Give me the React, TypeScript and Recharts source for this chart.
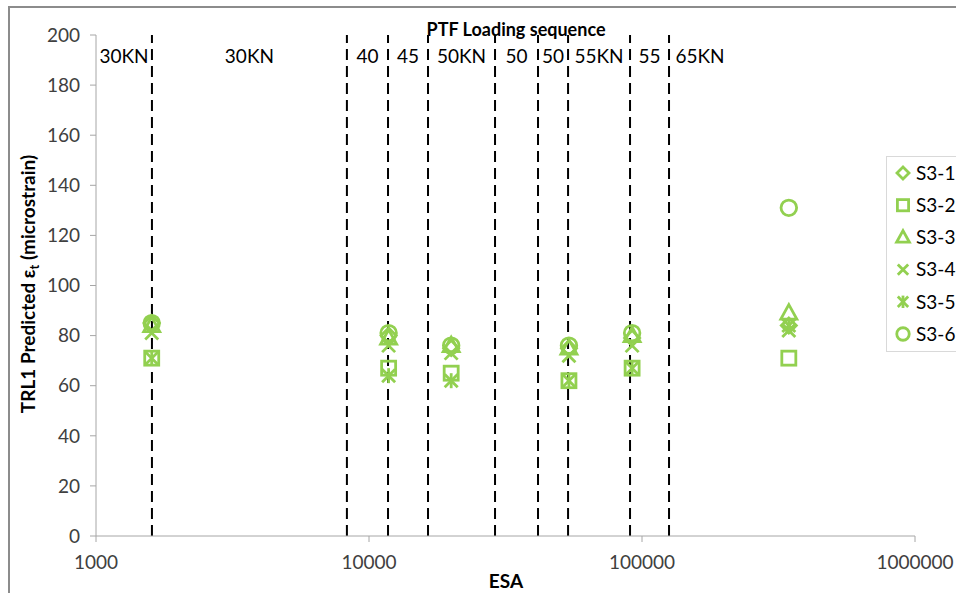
import React from "react";
import {
  ScatterChart,
  Scatter,
  XAxis,
  YAxis,
  ReferenceLine,
  ReferenceArea,
} from "recharts";

// ESA position of each measurement cluster
const esa = [1600, 11800, 20000, 54000, 92000, 345000];

// Predicted tensile strain (microstrain) per specimen
const s31 = [85, 80, 75, 75, 79, 84];
const s32 = [71, 67, 65, 62, 67, 71];
const s33 = [84, 79, 76, 75, 80, 89];
const s34 = [81, 76, 73, 72, 76, 82];
const s35 = [71, 64, 62, 62, 67, 84];
const s36 = [85, 81, 76, 76, 81, 131];

// Loading-sequence boundaries (ESA) and the load stage between them
const stageBounds = [1000, 1603, 8300, 11740, 16450, 28950, 41600, 53600, 90400, 125600, 212000];
const stageLabels = ["30KN", "30KN", "40", "45", "50KN", "50", "50", "55KN", "55", "65KN"];

const xTicks = [1000, 10000, 100000, 1000000];
const yTicks = [0, 20, 40, 60, 80, 100, 120, 140, 160, 180, 200];

type Kind = "diamond" | "square" | "triangle" | "x" | "star" | "circle";

const series: { name: string; kind: Kind; values: number[] }[] = [
  { name: "S3-1", kind: "diamond", values: s31 },
  { name: "S3-2", kind: "square", values: s32 },
  { name: "S3-3", kind: "triangle", values: s33 },
  { name: "S3-4", kind: "x", values: s34 },
  { name: "S3-5", kind: "star", values: s35 },
  { name: "S3-6", kind: "circle", values: s36 },
];

const GREEN = "#92D050";
const FONT = "Lato, 'Open Sans', sans-serif";

function MarkerGlyph({ kind, cx, cy, s = 1 }: { kind: Kind; cx: number; cy: number; s?: number }) {
  const common = { fill: "none", stroke: GREEN, strokeWidth: 2.8 };
  switch (kind) {
    case "diamond": {
      const h = 7.5 * s;
      return <polygon {...common} points={`${cx},${cy - h} ${cx + h},${cy} ${cx},${cy + h} ${cx - h},${cy}`} />;
    }
    case "square": {
      const h = 7 * s;
      return <rect {...common} x={cx - h} y={cy - h} width={2 * h} height={2 * h} />;
    }
    case "triangle": {
      const h = 8 * s;
      return <polygon {...common} points={`${cx},${cy - h * 1.05} ${cx + h},${cy + h * 0.75} ${cx - h},${cy + h * 0.75}`} />;
    }
    case "x": {
      const h = 6.5 * s;
      return (
        <g {...common}>
          <line x1={cx - h} y1={cy - h} x2={cx + h} y2={cy + h} />
          <line x1={cx - h} y1={cy + h} x2={cx + h} y2={cy - h} />
        </g>
      );
    }
    case "star": {
      const h = 6.5 * s;
      return (
        <g {...common}>
          <line x1={cx - h} y1={cy - h} x2={cx + h} y2={cy + h} />
          <line x1={cx - h} y1={cy + h} x2={cx + h} y2={cy - h} />
          <line x1={cx} y1={cy - h - 1} x2={cx} y2={cy + h + 1} />
        </g>
      );
    }
    default:
      return <circle {...common} cx={cx} cy={cy} r={7.8 * s} />;
  }
}

const stages = stageLabels.map((label, i) => ({
  label,
  x1: stageBounds[i],
  x2: stageBounds[i + 1],
}));

const boundaries = stageBounds.slice(1, stageBounds.length - 1);

export default function App() {
  return (
    <div
      style={{
        position: "absolute",
        left: 0,
        top: 0,
        width: 956,
        height: 593,
        background: "#fff",
        fontFamily: FONT,
        overflow: "hidden",
      }}
    >
      {/* chart frame */}
      <div
        style={{
          position: "absolute",
          left: 8,
          top: 6,
          width: 960,
          height: 600,
          borderTop: "2px solid #8c8c8c",
          borderLeft: "2px solid #8c8c8c",
        }}
      />
      <ScatterChart
        width={956}
        height={593}
        margin={{ top: 35, right: 41, bottom: 27, left: 36 }}
        style={{ position: "absolute", left: 0, top: 0, fontFamily: FONT }}
      >
        <XAxis
          type="number"
          dataKey="x"
          scale="log"
          domain={[1000, 1000000]}
          ticks={xTicks}
          allowDataOverflow
          height={30}
          stroke="#a6a6a6"
          tickSize={6}
          tickMargin={14}
          tick={{ fill: "#404040", fontSize: 19, fontFamily: FONT }}
        />
        <YAxis
          type="number"
          dataKey="y"
          domain={[0, 200]}
          ticks={yTicks}
          width={60}
          stroke="#a6a6a6"
          tickSize={6}
          tickMargin={10}
          tick={{ fill: "#404040", fontSize: 19, fontFamily: FONT }}
        />
        {stages.map((st, i) => (
          <ReferenceArea
            key={`st-${i}`}
            x1={st.x1}
            x2={st.x2}
            y1={0}
            y2={200}
            fill="none"
            fillOpacity={0}
            stroke="none"
            label={{
              value: st.label,
              position: "insideTop",
              offset: 15,
              fill: "#000",
              fontSize: 19,
              fontFamily: FONT,
            }}
          />
        ))}
        {boundaries.map((b, i) => (
          <ReferenceLine
            key={`b-${i}`}
            x={b}
            stroke="#000"
            strokeWidth={2}
            strokeDasharray="11 6"
          />
        ))}
        {series.map((s) => (
          <Scatter
            key={s.name}
            name={s.name}
            data={s.values.map((v, i) => ({ x: esa[i], y: v }))}
            isAnimationActive={false}
            shape={(p: any) => <MarkerGlyph kind={s.kind} cx={p.cx} cy={p.cy} />}
          />
        ))}
      </ScatterChart>

      {/* chart title */}
      <div
        style={{
          position: "absolute",
          left: 516,
          top: 29,
          transform: "translate(-50%, -50%)",
          fontWeight: 700,
          fontSize: 18,
          color: "#000",
          whiteSpace: "nowrap",
        }}
      >
        PTF Loading sequence
      </div>

      {/* y-axis title */}
      <div
        style={{
          position: "absolute",
          left: 29,
          top: 284,
          transform: "translate(-50%, -50%) rotate(-90deg)",
          fontWeight: 700,
          fontSize: 19,
          color: "#000",
          whiteSpace: "nowrap",
        }}
      >
        TRL1 Predicted ε<sub style={{ fontSize: 13 }}>t</sub> (microstrain)
      </div>

      {/* x-axis title */}
      <div
        style={{
          position: "absolute",
          left: 506,
          top: 580,
          transform: "translate(-50%, -50%)",
          fontWeight: 700,
          fontSize: 19,
          color: "#000",
        }}
      >
        ESA
      </div>

      {/* legend */}
      <svg
        width={80}
        height={197}
        style={{ position: "absolute", left: 886, top: 156 }}
      >
        <rect x={0.5} y={0.5} width={90} height={195} fill="#fff" stroke="#d9d9d9" />
        {series.map((s, i) => {
          const y = 17 + i * 32.2;
          return (
            <g key={s.name}>
              <MarkerGlyph kind={s.kind} cx={17} cy={y} s={0.8} />
              <text x={30} y={y} dy="0.36em" fontSize={19} fontFamily={FONT} fill="#000">
                {s.name}
              </text>
            </g>
          );
        })}
      </svg>
    </div>
  );
}
